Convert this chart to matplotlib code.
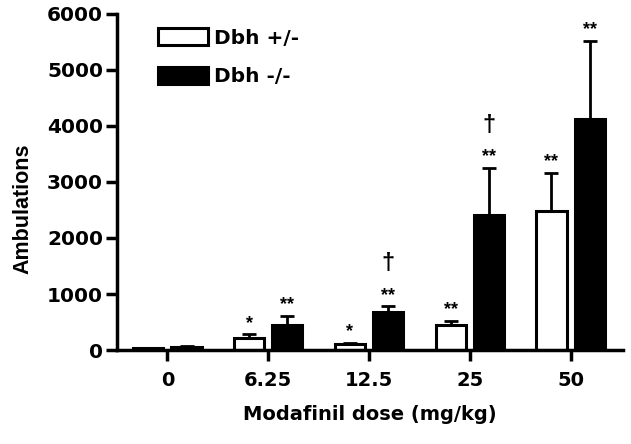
import numpy as np
from matplotlib import pyplot as plt
from matplotlib.font_manager import FontProperties

plt.rcParams['font.family'] = ['DejaVu Sans']
plt.rcParams['font.weight'] = 'bold'

# dados
doses = ['0', '6.25', '12.5', '25', '50']
het_mean = [30, 210, 100, 440, 2480]      # Dbh +/-
het_err = [10, 70, 30, 80, 680]
ko_mean = [50, 450, 680, 2410, 4130]      # Dbh -/-
ko_err = [15, 160, 100, 840, 1390]
het_sig = ['', '*', '*', '**', '**']
ko_sig = ['', '**', '**', '**', '**']
ko_dag = ['', '', '†', '†', '']

fig = plt.figure(figsize=(6.31, 4.44), dpi=100)
ax = fig.add_axes([0.1854, 0.2117, 0.8019, 0.7568])

x = np.arange(len(doses))
w = 0.30
d = 0.19

ax.bar(x - d, het_mean, w, color='white', edgecolor='black', linewidth=2.2,
       yerr=[np.zeros(len(x)), het_err], capsize=5, error_kw=dict(elinewidth=2, capthick=2),
       label='Dbh +/-')
ax.bar(x + d, ko_mean, w, color='black', edgecolor='black', linewidth=2.2,
       yerr=[np.zeros(len(x)), ko_err], capsize=5, error_kw=dict(elinewidth=2, capthick=2),
       label='Dbh -/-')

#asteriscos e cruzes
fp_star = FontProperties(family=['Liberation Sans', 'DejaVu Sans'], weight='bold', size=13)
fp_dag = FontProperties(family=['Liberation Sans', 'DejaVu Sans'], weight='bold', size=17)
for i in range(len(x)):
    top = het_mean[i] + het_err[i]
    if het_sig[i]:
        ax.text(x[i] - d, top + 200, het_sig[i], ha='center', va='center', fontproperties=fp_star)
    top = ko_mean[i] + ko_err[i]
    if ko_sig[i]:
        ax.text(x[i] + d, top + 200, ko_sig[i], ha='center', va='center', fontproperties=fp_star)
    if ko_dag[i]:
        ax.text(x[i] + d, top + 760, ko_dag[i], ha='center', va='center', fontproperties=fp_dag)

ax.set_xlim(-0.5, 4.52)
ax.set_ylim(0, 6000)
ax.set_yticks([0, 1000, 2000, 3000, 4000, 5000, 6000])
ax.set_xticks(x)
ax.set_xticklabels(doses)
ax.spines['top'].set_visible(False)
ax.spines['right'].set_visible(False)
ax.spines['left'].set_linewidth(2.5)
ax.spines['bottom'].set_linewidth(2.5)
ax.tick_params(width=2.5, length=8, labelsize=14.5)
ax.tick_params(axis='x', pad=7, labelsize=14)
ax.tick_params(axis='y', pad=2)

fp_ylab = FontProperties(family=['Liberation Sans', 'DejaVu Sans'], weight='bold', size=15.5)
ax.set_ylabel('Ambulations', fontproperties=fp_ylab)
ax.yaxis.set_label_coords(-0.165, 0.42)
ax.set_xlabel('Modafinil dose (mg/kg)', fontsize=14, fontweight='bold', labelpad=11)

leg = ax.legend(loc='upper left', bbox_to_anchor=(0.045, 1.012), frameon=False, fontsize=14.5,
                handlelength=2.5, handleheight=0.95, handletextpad=0.3, labelspacing=0.95)

fig.savefig('out.png', dpi=100)
